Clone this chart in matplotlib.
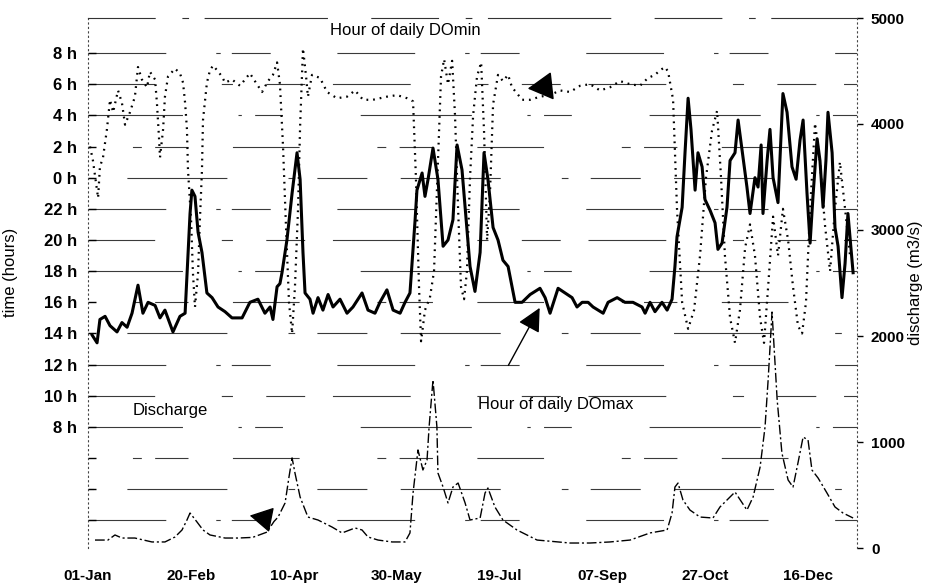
import matplotlib.pyplot as plt

plt.rcParams['font.family'] = ['Liberation Sans', 'DejaVu Sans']

# x axis: day of year
label_days = [0, 50, 100, 150, 200, 250, 300, 350]
date_labels = ['01-Jan', '20-Feb', '10-Apr', '30-May', '19-Jul', '07-Sep', '27-Oct', '16-Dec']

# left axis: hour of day (0 h = 24, 8 h next day = 32)
hour_ticks = [8, 10, 12, 14, 16, 18, 20, 22, 24, 26, 28, 30, 32]
hour_labels = ['8 h', '10 h', '12 h', '14 h', '16 h', '18 h', '20 h', '22 h',
               '0 h', '2 h', '4 h', '6 h', '8 h']

# right axis: discharge
q_ticks = [0, 1000, 2000, 3000, 4000, 5000]

# hour of daily DO maximum (solid)
domax_day = [2, 4.4, 5.8, 8.3, 10.7, 14.1, 16.5, 19, 21.4, 24.3, 26.7, 29.2, 32.6, 35, 37.4,
             41.3, 44.7, 47.2, 49.6, 50.5, 52, 53.5, 55.4, 57.8, 60.3, 63.2, 66.6, 70, 74.9,
             78.7, 82.6, 86, 88.5, 89.9, 91.9, 93.3, 94.3, 96.7, 99.2, 101.6, 103.1, 104.5,
             105.5, 107.9, 109.4, 111.8, 114.2, 116.7, 119.1, 122.5, 125.9, 128.8, 133.2,
             136.1, 139.5, 141.9, 145.3, 148.3, 151.7, 154.1, 156.5, 159, 159.9, 162.4, 163.8,
             165.3, 167.7, 170.1, 172.6, 175, 177.4, 179.4, 181.8, 183.3, 185.7, 188.1, 190.6,
             192.5, 194.4, 196.9, 199.3, 201.7, 204.2, 207.6, 211, 214.9, 219.7, 222.2, 224.6,
             228.5, 231.9, 235.3, 237.7, 240.2, 243.1, 245.5, 250.4, 252.8, 257.2, 261, 264.9,
             269.3, 270.8, 273.2, 275.6, 279, 281.5, 283.9, 285.3, 286.3, 288.8, 290.2, 291.7,
             293.1, 295.1, 296.5, 298.5, 299.9, 302.4, 304.8, 306.2, 308.2, 310.6, 312.1,
             314.5, 316, 317.9, 320.3, 321.8, 324.2, 325.7, 327.2, 328.1, 330.1, 331.5, 333,
             335.4, 337.8, 339.8, 342.2, 344.2, 346.1, 347.6, 349.5, 351, 352.4, 354.4, 355.8,
             357.3, 358.7, 359.7, 361.7, 363.1, 364.6, 366.5, 368, 369.4, 371.4, 371.9]
domax_hour = [13.9, 13.4, 14.9, 15.1, 14.5, 14.1, 14.7, 14.4, 15.3, 17.1, 15.3, 16.0, 15.8, 15.0, 15.5,
              14.1, 15.1, 15.3, 21.7, 23.2, 22.8, 20.5, 19.2, 16.6, 16.3, 15.7, 15.4, 15.0, 15.0,
              16.0, 16.2, 15.3, 15.7, 14.9, 17.0, 17.2, 17.9, 20.0, 23.0, 25.6, 23.9, 19.2,
              16.6, 16.2, 15.3, 16.3, 15.5, 16.5, 15.7, 16.2, 15.3, 15.7, 16.6,
              15.5, 15.3, 16.0, 16.8, 15.5, 15.3, 16.0, 16.6, 21.3, 23.2, 24.3, 22.8,
              23.9, 25.9, 23.9, 19.6, 20.0, 21.3, 26.1, 24.5, 22.1, 18.3, 16.7, 19.2,
              25.6, 23.9, 20.8, 20.0, 18.7, 18.3, 16.0, 16.0, 16.5, 16.9, 16.3, 15.3,
              16.9, 16.6, 16.3, 15.7, 16.0, 16.0, 15.7, 15.3, 16.0, 16.3, 16.0, 16.0,
              15.7, 15.3, 16.0, 15.4, 16.0, 15.5, 16.2, 18.3, 20.2, 22.1, 25.6, 29.1,
              27.1, 23.2, 25.6, 24.7, 22.6, 21.9, 21.1, 19.4, 19.8, 22.1, 25.1,
              25.6, 27.7, 25.8, 23.4, 21.7, 24.0, 23.4, 26.1, 21.7, 25.1, 27.1, 24.0,
              22.4, 29.4, 28.2, 24.7, 23.9, 26.4, 27.7, 23.0, 19.8, 22.8, 26.5, 25.1,
              22.1, 25.1, 28.2, 25.6, 20.8, 19.6, 16.3, 18.5, 21.7, 18.7, 17.9]

# hour of daily DO minimum (dotted)
domin_day = [1, 2.4, 4.4, 4.9, 5.8, 7.3, 9.2, 10.7, 12.2, 14.6, 16.5, 18, 20.4, 22.8, 24.3, 26.2,
             28.7, 30.1, 32.6, 33.5, 34.5, 35, 36.5, 37.4, 38.9, 42.3, 44.7, 46.2, 47.2, 48.1,
             48.6, 50.1, 51, 52, 53.5, 54.4, 55.4, 55.9, 57.8, 59.3, 60.8, 62.7, 65.1, 66.6,
             70, 73.9, 78.7, 82.1, 84.6, 87.5, 89.9, 91.9, 93.3, 94.8, 96.2, 97.7, 99.2, 100.6,
             102.1, 103.1, 104.5, 106, 106.9, 108.9, 112.8, 116.2, 121, 125.9, 129.8, 133.7,
             138.5, 145.3, 150.2, 155.1, 158, 159.4, 160.9, 161.9, 163.8, 166.2, 168.2, 170.1,
             171.6, 173.1, 175, 177, 178.4, 179.9, 181.3, 182.8, 184.2, 185.7, 187.2, 189.1,
             191.1, 192.5, 194, 195.4, 196.9, 199.3, 201.7, 204.2, 206.1, 208, 211, 214.9,
             219.7, 224.6, 229.4, 234.3, 239.2, 244, 248.9, 253.7, 258.6, 263.5, 268.3, 272.2,
             275.6, 278.1, 280.5, 282, 284.4, 286.3, 288.8, 291.7, 294.6, 297.5, 300.4, 303.3,
             305.8, 307.7, 309.6, 312.1, 314.5, 316.9, 319.4, 321.8, 324.2, 326.7, 328.6,
             330.6, 333, 335.4, 337.8, 340.3, 342.7, 345.1, 347.1, 349, 351, 353.4, 355.8,
             358.2, 360.7, 363.1, 365.5, 368, 370.4]
domin_hour = [26.0, 25.1, 23.2, 22.7, 24.7, 25.3, 27.1, 29.0, 28.2, 29.6, 28.8, 27.4, 28.2, 29.2, 31.1, 30.3,
              29.8, 30.8, 30.3, 28.8, 26.6, 25.3, 27.1, 29.2, 30.5, 31.0, 30.7, 30.1, 28.8, 27.1,
              24.5, 21.3, 17.9, 15.7, 17.9, 21.3, 24.5, 27.7, 30.1, 30.9, 31.2, 30.9, 30.5, 30.1,
              30.3, 29.9, 30.7, 30.0, 29.5, 30.2, 30.6, 31.4, 30.0, 26.0, 21.0, 16.0, 14.0, 17.0,
              22.0, 27.3, 32.3, 30.5, 29.2, 30.6, 30.4, 29.5, 29.1, 29.2, 29.6, 29.0,
              29.0, 29.2, 29.3, 29.1, 28.9, 24.0, 17.0, 13.5, 15.5, 16.3, 18.0, 25.0,
              30.5, 31.6, 30.0, 31.5, 28.0, 22.0, 17.0, 16.2, 18.0, 24.0, 28.0, 30.5,
              31.4, 27.0, 20.0, 23.0, 28.7, 30.6, 30.2, 30.6, 29.8, 29.5, 29.0, 29.0,
              29.2, 29.3, 29.6, 29.5, 29.9, 30.0, 29.6, 29.8, 30.2, 30.0, 29.9, 30.4,
              30.6, 30.9, 31.1, 30.8, 29.0, 22.0, 16.0, 14.3, 15.5, 19.0, 24.0, 27.0,
              28.3, 24.0, 19.0, 15.0, 13.4, 15.5, 19.5, 21.0, 19.0, 15.0, 13.4,
              17.0, 21.5, 19.0, 22.0, 20.0, 17.0, 14.5, 14.0, 16.0, 22.0, 27.5, 25.0,
              21.0, 18.0, 22.0, 25.0, 22.0, 19.0]

# discharge (m3/s, dash-dot)
q_day = [3.4, 9.7, 13.1, 16.5, 22.8, 31.1, 37.4, 42.3, 45.7, 48.1, 49.6, 53, 55.9, 59.3, 66.6,
         72.9, 80, 87, 90.4, 92.4, 95.8, 97.7, 99.2, 100.6, 103.1, 106.9, 111.8, 118.6, 123.5,
         129.8, 133.2, 136.1, 141, 147.8, 154.1, 156.5, 158, 160.4, 162.8, 164.8, 165.8, 167.7,
         169.6, 170.1, 172.6, 175, 177.4, 179.9, 183.3, 185.7, 190.6, 193, 194.4, 197.8, 201.7,
         208.5, 218.3, 234.3, 244, 253.7, 263.5, 273.2, 281.5, 283.9, 285.3, 286.8, 289.2,
         292.6, 297.5, 303.8, 307.2, 314.5, 320.3, 323.3, 326.7, 329.1, 330.6, 332.5, 335,
         337.3, 340.3, 342.7, 345.1, 347.6, 350, 351.9, 354.9, 359.2, 363.1, 367, 371.9]
q_flow = [75, 75, 123, 94, 94, 57, 57, 104, 170, 264, 330, 245, 170, 123, 94,
          94, 100, 150, 250, 292, 425, 670, 850, 708, 481, 292, 264, 198, 142,
          189, 170, 104, 75, 57, 57, 142, 519, 925, 736, 830, 1142, 1585,
          1142, 708, 575, 425, 575, 613, 425, 264, 283, 519, 566, 387, 264,
          170, 75, 47, 47, 57, 75, 142, 170, 330, 575, 613, 453,
          358, 292, 283, 387, 528, 358, 481, 764, 1142, 1585, 2226, 1396,
          896, 642, 575, 802, 1047, 1019, 736, 660, 519, 387, 330, 283]

fig = plt.figure(figsize=(9.25, 5.85), dpi=100)
ax = fig.add_axes([88 / 925, 37 / 585, 769 / 925, 530 / 585])
ax2 = ax.twinx()

ax.set_xlim(0, 373.8)
ax.set_ylim(0.23, 34.25)
ax2.set_ylim(0, 5000)

# broken horizontal guide lines, like the scanned original
dash_sets = [(0, (70, 45, 4, 10, 35, 60)), (40, (45, 30, 90, 55, 6, 20)),
             (90, (60, 70, 8, 12, 30, 40)), (15, (100, 50, 3, 12, 25, 70)),
             (70, (35, 25, 70, 60, 10, 30))]
for i, h in enumerate(range(2, 34, 2)):
    ax.axhline(h, color='#3a3a3a', lw=0.8, ls=dash_sets[i % len(dash_sets)], zorder=1)

ax.plot(domin_day, domin_hour, color='black', lw=1.6, ls=(0, (0.8, 2.2)), zorder=3)
ax.plot(domax_day, domax_hour, color='black', lw=2.2, zorder=4)
ax2.plot(q_day, q_flow, color='black', lw=1.0, ls=(0, (7, 2, 1.5, 2)), zorder=3)

# ticks and labels
ax.set_yticks(hour_ticks)
ax.set_yticklabels(hour_labels, fontsize=12, fontweight='bold')
ax.set_yticks([2, 4, 6], minor=True)
ax.tick_params(axis='y', which='both', direction='in', length=6, width=1, pad=8)
ax.set_xticks(label_days)
ax.set_xticklabels(date_labels, fontsize=11, fontweight='bold')
ax.tick_params(axis='x', length=0, pad=15)

ax2.set_yticks(q_ticks)
ax2.set_yticklabels([str(v) for v in q_ticks], fontsize=11, fontweight='bold')
ax2.tick_params(axis='y', direction='out', length=4, width=1, pad=6)

ax.set_ylabel('time (hours)', fontsize=12)
ax2.set_ylabel('discharge (m3/s)', fontsize=12)
ax.yaxis.set_label_coords(-0.091, 0.52)
ax2.yaxis.set_label_coords(1.066, 0.50)

for s in ['right', 'bottom']:
    ax.spines[s].set_visible(False)
for s in ['left', 'top', 'bottom']:
    ax2.spines[s].set_visible(False)
ax.spines['left'].set_linestyle((0, (1, 3)))
ax.spines['left'].set_color('#444444')
ax.spines['top'].set_linestyle((0, (60, 25, 5, 15, 110, 40)))
ax.spines['top'].set_color('#333333')
ax2.spines['right'].set_linestyle((0, (1, 3)))
ax2.spines['right'].set_color('#444444')

# annotations
fig.text(405 / 925, 1 - 30 / 585, 'Hour of daily DOmin', fontsize=12, ha='center', va='center')
fig.text(556 / 925, 1 - 404 / 585, 'Hour of daily DOmax', fontsize=12, ha='center', va='center')
fig.text(170 / 925, 1 - 411 / 585, 'Discharge', fontsize=12, ha='center', va='center')

ax.annotate('', xy=(212.4, 29.7), xytext=(226, 29.9),
            arrowprops=dict(arrowstyle='-|>,head_length=0.8,head_width=0.45',
                            color='black', lw=1.2, mutation_scale=20))
ax.annotate('', xy=(220.2, 15.8), xytext=(203.7, 11.8),
            arrowprops=dict(arrowstyle='-|>,head_length=0.8,head_width=0.4',
                            color='black', lw=1.0, mutation_scale=18))
ax2.annotate('', xy=(77.3, 311), xytext=(89.5, 264),
             arrowprops=dict(arrowstyle='-|>,head_length=0.8,head_width=0.45',
                             color='black', lw=1.0, mutation_scale=18))

fig.savefig('out.png', dpi=100)
